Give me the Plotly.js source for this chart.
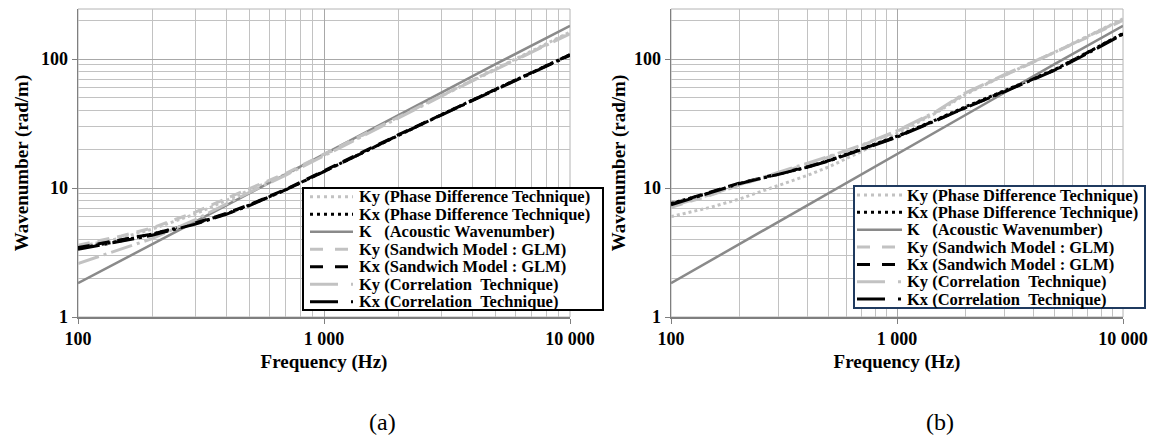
<!DOCTYPE html>
<html>
<head>
<meta charset="utf-8">
<script src="https://cdn.plot.ly/plotly-3.0.1.min.js"></script>
<style>
html,body{margin:0;padding:0;background:#ffffff;}
#chart{width:1156px;height:442px;}
</style>
</head>
<body>
<div id="chart"></div>
<script>
// ---------------- DATA ----------------
const frequency = [100, 150, 200, 300, 400, 500, 700, 1000, 1500, 2000, 3000, 5000, 7000, 10000];

const seriesNames = [
  "Ky (Phase Difference Technique)",
  "Kx (Phase Difference Technique)",
  "K\u00a0\u00a0\u00a0(Acoustic Wavenumber)",
  "Ky (Sandwich Model : GLM)",
  "Kx (Sandwich Model : GLM)",
  "Ky (Correlation\u00a0\u00a0Technique)",
  "Kx (Correlation\u00a0\u00a0Technique)"
];

// Acoustic wavenumber (same in both panels)
const kAcoustic = [1.83, 2.75, 3.66, 5.5, 7.33, 9.16, 12.8, 18.3, 27.5, 36.6, 55, 91.6, 128, 181];

// Panel (a)
const kyPhaseA    = [3.5, 4.1, 4.8, 6.3, 8.0, 9.6, 12.8, 18.0, 26.8, 35.5, 52, 84, 115, 162];
const kxPhaseA    = [3.4, 3.9, 4.4, 5.3, 6.3, 7.4, 9.7, 13.5, 19.7, 25.7, 37, 58.5, 79, 108];
const kySandwichA = [3.6, 4.25, 4.9, 6.5, 8.3, 9.9, 13.0, 18.3, 27.0, 35.5, 52, 84, 114, 160];
const kxSandwichA = [3.45, 3.95, 4.4, 5.35, 6.35, 7.45, 9.8, 13.6, 19.8, 25.8, 37, 58.5, 79, 108];
const kyCorrA     = [2.6, 3.35, 4.05, 5.7, 7.5, 9.3, 12.6, 17.8, 26.5, 35, 51.5, 83, 113, 157];
const kxCorrA     = [3.35, 3.85, 4.3, 5.25, 6.25, 7.35, 9.7, 13.4, 19.6, 25.6, 36.8, 58, 78.5, 107];

// Panel (b)
const kyPhaseB    = [6.0, 7.1, 8.2, 10.5, 12.5, 14.6, 19.3, 26.5, 38.5, 53, 75, 113, 150, 205];
const kxPhaseB    = [7.6, 9.2, 10.8, 12.8, 14.5, 16.4, 20.2, 25.2, 34, 42.5, 57, 83, 113, 158];
const kySandwichB = [7.1, 8.8, 10.5, 13.0, 15.3, 17.4, 21.4, 27.5, 39, 54, 75, 112, 148, 200];
const kxSandwichB = [7.5, 9.3, 10.9, 12.9, 14.6, 16.3, 20.2, 25.0, 33.8, 42, 56.5, 82.5, 112, 157];
const kyCorrB     = [7.2, 8.9, 10.6, 13.2, 15.5, 17.6, 21.6, 27.8, 39.5, 54.5, 76, 113, 150, 202];
const kxCorrB     = [7.4, 9.2, 10.8, 12.8, 14.5, 16.2, 20.0, 24.8, 33.5, 41.8, 56, 82, 111, 156];

const xTickVals = [100, 1000, 10000];
const xTickText = ["100", "1 000", "10 000"];
const yTickVals = [1, 10, 100];
const yTickText = ["1", "10", "100"];
const xTitle = "Frequency (Hz)";
const yTitle = "Wavenumber (rad/m)";
const captions = ["(a)", "(b)"];

const panelA = [kyPhaseA, kxPhaseA, kAcoustic, kySandwichA, kxSandwichA, kyCorrA, kxCorrA];
const panelB = [kyPhaseB, kxPhaseB, kAcoustic, kySandwichB, kxSandwichB, kyCorrB, kxCorrB];

// ---------------- STYLE ----------------
const W = 1156, H = 442;
const px = v => v / W;
const py = v => 1 - v / H;
const LIGHT = "#c2c2c2", MID = "#8a8a8a", BLACK = "#000000";
const lineStyles = [
  {color: LIGHT, width: 3, dash: "3px,3px"},
  {color: BLACK, width: 3, dash: "3px,3px"},
  {color: MID,   width: 2.5, dash: "solid"},
  {color: LIGHT, width: 3, dash: "12px,8px"},
  {color: BLACK, width: 3, dash: "12px,8px"},
  {color: LIGHT, width: 3, dash: "22px,5px,3px,5px"},
  {color: BLACK, width: 3, dash: "22px,5px,3px,5px"}
];
const legendSampleDash = ["3px,4px", "3px,4px", "solid", "13px,12px", "13px,12px", "28px,13px,3px,4px", "28px,13px,3px,4px"];

const serif = "Liberation Serif";

const traces = [];
[panelA, panelB].forEach((panel, p) => {
  panel.forEach((vals, i) => {
    traces.push({
      x: frequency, y: vals, type: "scatter", mode: "lines",
      name: seriesNames[i], showlegend: false,
      xaxis: p === 0 ? "x" : "x2", yaxis: p === 0 ? "y" : "y2",
      line: {color: lineStyles[i].color, width: lineStyles[i].width, dash: lineStyles[i].dash},
      hoverinfo: "skip"
    });
  });
});

function xAxis(domain, anchor) {
  return {
    type: "log", range: [2, 4], domain: domain, anchor: anchor,
    tickmode: "array", tickvals: xTickVals, ticktext: xTickText,
    tickfont: {family: serif, size: 18, weight: "bold", color: "#000"},
    showgrid: true, gridcolor: "#a8a8a8", gridwidth: 1,
    minor: {dtick: "D1", showgrid: true, gridcolor: "#c2c2c2", gridwidth: 1, ticks: ""},
    showline: true, linecolor: "#7f7f7f", linewidth: 1.5,
    ticks: "outside", ticklen: 5, tickcolor: "#7f7f7f",
    zeroline: false, automargin: false,
    title: {text: xTitle, font: {family: serif, size: 19, weight: "bold", color: "#000"}, standoff: 6}
  };
}
function yAxis(anchor, standoff) {
  return {
    type: "log", range: [0, 2.388], domain: [py(317), py(9)], anchor: anchor,
    tickmode: "array", tickvals: yTickVals, ticktext: yTickText,
    tickfont: {family: serif, size: 18, weight: "bold", color: "#000"},
    showgrid: true, gridcolor: "#a8a8a8", gridwidth: 1,
    minor: {dtick: "D1", showgrid: true, gridcolor: "#c2c2c2", gridwidth: 1, ticks: ""},
    showline: true, linecolor: "#7f7f7f", linewidth: 1.5,
    ticks: "outside", ticklen: 5, tickcolor: "#7f7f7f",
    zeroline: false, automargin: false,
    title: {text: yTitle, font: {family: serif, size: 19, weight: "bold", color: "#000"}, standoff: standoff}
  };
}

const shapes = [];
const annotations = [];
// plot-area borders (top / right)
["x", "x2"].forEach((xa, p) => {
  shapes.push({type: "rect", xref: xa + " domain", yref: (p === 0 ? "y" : "y2") + " domain",
    x0: 0, x1: 1, y0: 0, y1: 1, line: {color: "#b4b4b4", width: 1}, layer: "below"});
});

// legends (manual, so the rows match the reference spacing)
const legendBoxes = [
  {x0: 303, x1: 603, y0: 188, y1: 310, border: "#000000", row0: 196.8, dy: 17.5, s0: 310, s1: 353, t: 357},
  {x0: 854, x1: 1145, y0: 186, y1: 308, border: "#1f3a5f", row0: 195.0, dy: 17.35, s0: 857, s1: 902, t: 905}
];
legendBoxes.forEach(b => {
  shapes.push({type: "rect", xref: "paper", yref: "paper", x0: px(b.x0), x1: px(b.x1), y0: py(b.y1), y1: py(b.y0),
    line: {color: b.border, width: 2}, fillcolor: "#ffffff", layer: "above"});
  seriesNames.forEach((name, i) => {
    const yy = b.row0 + i * b.dy;
    shapes.push({type: "line", xref: "paper", yref: "paper", x0: px(b.s0), x1: px(b.s1), y0: py(yy), y1: py(yy),
      line: {color: lineStyles[i].color, width: i === 2 ? 2.5 : 3, dash: legendSampleDash[i]}, layer: "above"});
    annotations.push({xref: "paper", yref: "paper", x: px(b.t), y: py(yy), xanchor: "left", yanchor: "middle",
      text: name, showarrow: false, font: {family: serif, size: 16.5, weight: "bold", color: "#000"}});
  });
});

// captions
[[382, captions[0]], [940, captions[1]]].forEach(c => {
  annotations.push({xref: "paper", yref: "paper", x: px(c[0]), y: py(422), xanchor: "center", yanchor: "middle",
    text: c[1], showarrow: false, font: {family: serif, size: 24, color: "#000"}});
});

const layout = {
  width: W, height: H,
  margin: {l: 0, r: 0, t: 0, b: 0, pad: 0},
  paper_bgcolor: "#ffffff", plot_bgcolor: "#ffffff",
  showlegend: false,
  xaxis: xAxis([px(78), px(570)], "y"),
  yaxis: yAxis("x", 7),
  xaxis2: xAxis([px(671), px(1123)], "y2"),
  yaxis2: yAxis("x2", 3),
  shapes: shapes,
  annotations: annotations
};

Plotly.newPlot("chart", traces, layout, {staticPlot: true, displayModeBar: false});
</script>
</body>
</html>
